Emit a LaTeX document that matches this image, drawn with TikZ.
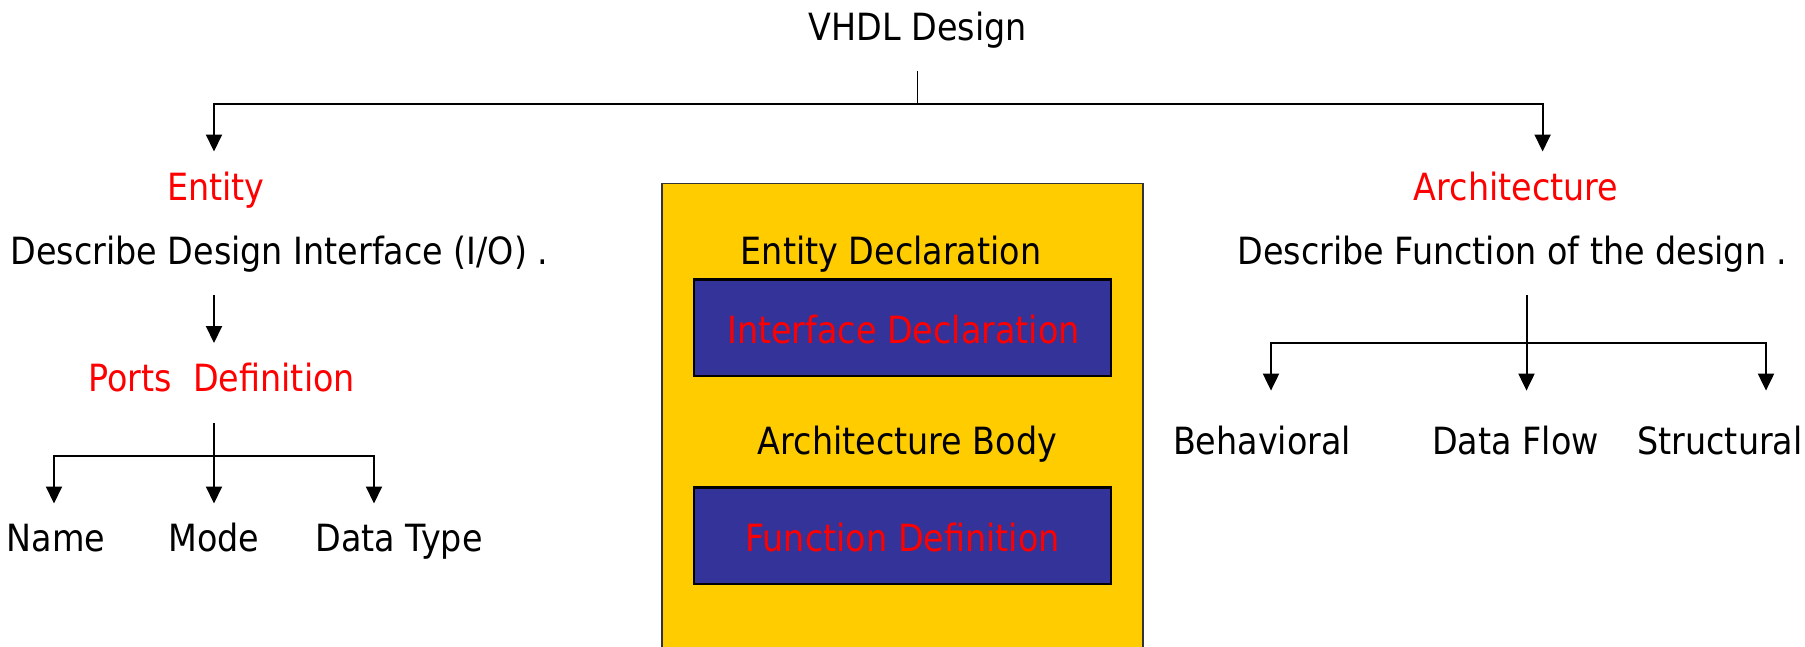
\documentclass[tikz,border=0pt]{standalone}
\usepackage{fontspec}
\setmainfont{DejaVu Sans}[FakeStretch=0.89]
\usetikzlibrary{arrows.meta}
\definecolor{boxyellow}{RGB}{255,204,0}
\definecolor{boxblue}{RGB}{51,51,153}
\definecolor{labelred}{RGB}{255,0,0}

\begin{document}
\begin{tikzpicture}[x=1pt,y=-1pt,
  lbl/.style={inner sep=0pt, anchor=base, font=\fontsize{37.5}{40}\selectfont},
  redlbl/.style={lbl, text=labelred},
  link/.style={line width=2pt},
  stem/.style={line width=1.2pt},
  arr/.style={link, -{Triangle[length=17pt,width=16pt]}},
  outerbox/.style={fill=boxyellow, draw=black!80, line width=1.6pt},
  innerbox/.style={fill=boxblue, draw=black, line width=2.4pt},
]
\useasboundingbox (0,0) rectangle (1805,646);
\clip (0,0) rectangle (1805,646);

% central block: entity + architecture body
\path[outerbox] (662,183.5) rectangle (1143,700);
\path[innerbox] (694,279.5) rectangle (1111,376);
\path[innerbox] (694,487.5) rectangle (1111,584);

% labels
\node[lbl]    (vhdl)   at (918,40)    {VHDL Design};
\node[redlbl] (ent)    at (216,200)   {Entity};
\node[lbl]    (entd)   at (279.5,264) {Describe Design Interface (I/O) .};
\node[redlbl] (ports)  at (221.7,391) {Ports\ \ Definition};
\node[lbl]    (name)   at (56,551)    {Name};
\node[lbl]    (mode)   at (214,551)   {Mode};
\node[lbl]    (dtype)  at (399,551)   {Data Type};

\node[lbl]    (edecl)  at (891,264)   {Entity Declaration};
\node[redlbl] (idecl)  at (903.5,343) {Interface Declaration};
\node[lbl]    (abody)  at (907.5,454) {Architecture Body};
\node[redlbl] (fdef)   at (902.5,551) {Function Definition};

\node[redlbl] (arch)   at (1516,200)  {Architecture};
\node[lbl]    (archd)  at (1512.5,264){Describe Function of the design .};
\node[lbl]    (beh)    at (1262,454)  {Behavioral};
\node[lbl]    (dflow)  at (1515.5,454){Data Flow};
\node[lbl]    (struct) at (1720,454)  {Structural};

% junction points
\coordinate (top0) at (917.5,71);
\coordinate (top1) at (917.5,103.5);
\coordinate (entTip) at (214,151.5);
\coordinate (archTip) at (1542.6,151.5);

\coordinate (e0) at (214,295);
\coordinate (e1) at (214,343);

\coordinate (p0) at (214,423);
\coordinate (p1) at (214,456);
\coordinate (pName) at (54,503.5);
\coordinate (pMode) at (214,503.5);
\coordinate (pType) at (374,503.5);

\coordinate (a0) at (1526.5,295);
\coordinate (a1) at (1526.5,343);
\coordinate (aBeh) at (1271,390.6);
\coordinate (aFlow) at (1526.5,390.6);
\coordinate (aStr) at (1766,390.6);

% connectors
\draw[stem] (top0) -- (top1);
\draw[arr] (top1) -| (entTip);
\draw[arr] (top1) -| (archTip);

\draw[arr] (e0) -- (e1);

\draw[arr] (p0) -- (pMode);
\draw[arr] (p1) -| (pName);
\draw[arr] (p1) -| (pType);

\draw[arr] (a0) -- (aFlow);
\draw[arr] (a1) -| (aBeh);
\draw[arr] (a1) -| (aStr);
\end{tikzpicture}
\end{document}
